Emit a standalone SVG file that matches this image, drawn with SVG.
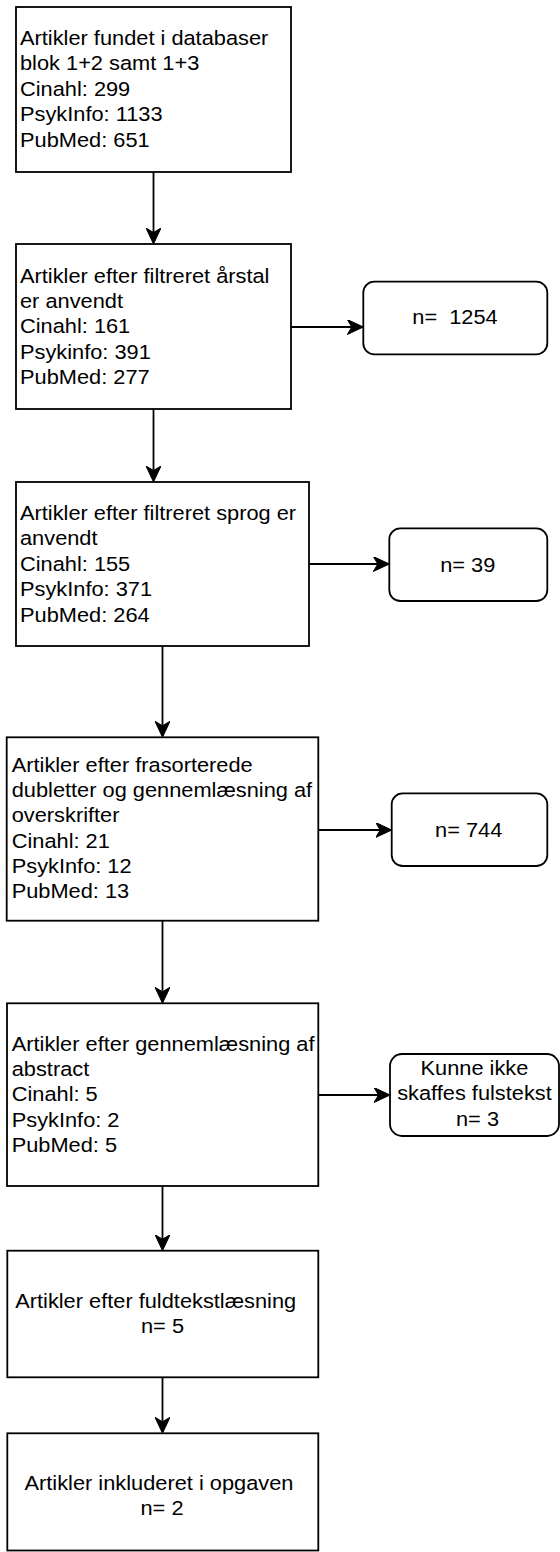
<svg xmlns="http://www.w3.org/2000/svg" width="560" height="1552" viewBox="0 0 560 1552">
<style>
  .box { fill: #ffffff; stroke: #000000; stroke-width: 1.8; }
  .lbl { font-family: "Liberation Sans", Arial, Helvetica, sans-serif; font-size: 19.5px; fill: #000000; }
  .mid { text-anchor: middle; }
  .edge { fill: none; stroke: #000000; stroke-width: 1.8; marker-end: url(#arrow); }
</style>
<defs>
  <marker id="arrow" viewBox="0 0 16 15" refX="13" refY="7.5" markerWidth="16" markerHeight="15" markerUnits="userSpaceOnUse" orient="auto">
    <path d="M0,0 L16,7.5 L0,15 L4.5,7.5 Z" fill="#000000" stroke="#000000" stroke-width="1" stroke-linejoin="miter"/>
  </marker>
</defs>
<rect x="0" y="0" width="560" height="1552" fill="#ffffff"/>

<g id="connectors">
  <path class="edge" d="M153.5,172 V241"/>
  <path class="edge" d="M291,327 H360.3"/>
  <path class="edge" d="M153.5,409 V479"/>
  <path class="edge" d="M309,564 H386.3"/>
  <path class="edge" d="M162.5,646 V734.3"/>
  <path class="edge" d="M318.3,830 H388.7"/>
  <path class="edge" d="M162.5,921 V1000.3"/>
  <path class="edge" d="M318.3,1095 H387"/>
  <path class="edge" d="M162.5,1186 V1247.7"/>
  <path class="edge" d="M162.5,1377.3 V1430.3"/>
</g>

<g id="node-database">
  <rect class="box" x="16" y="7" width="275" height="165"/>
  <text class="lbl" transform="matrix(1.118 0 0 1 20 0)">
    <tspan x="0" y="45">Artikler fundet i databaser</tspan>
    <tspan x="0" y="70.4">blok 1+2 samt 1+3</tspan>
    <tspan x="0" y="95.8">Cinahl: 299</tspan>
    <tspan x="0" y="121.2">PsykInfo: 1133</tspan>
    <tspan x="0" y="146.6">PubMed: 651</tspan>
  </text>
</g>

<g id="node-year">
  <rect class="box" x="16" y="244" width="275" height="165"/>
  <text class="lbl" transform="matrix(1.118 0 0 1 20 0)">
    <tspan x="0" y="282.7">Artikler efter filtreret årstal</tspan>
    <tspan x="0" y="308.1">er anvendt</tspan>
    <tspan x="0" y="333.5">Cinahl: 161</tspan>
    <tspan x="0" y="358.9">Psykinfo: 391</tspan>
    <tspan x="0" y="384.3">PubMed: 277</tspan>
  </text>
</g>

<g id="node-n1254">
  <rect class="box" x="363.3" y="281.7" width="184" height="72.6" rx="11" ry="11"/>
  <text class="lbl mid" transform="matrix(1.118 0 0 1 455 0)"><tspan x="0" y="324.3">n=&#160; 1254</tspan></text>
</g>

<g id="node-language">
  <rect class="box" x="16" y="482" width="293" height="164"/>
  <text class="lbl" transform="matrix(1.118 0 0 1 20 0)">
    <tspan x="0" y="520">Artikler efter filtreret sprog er</tspan>
    <tspan x="0" y="545.4">anvendt</tspan>
    <tspan x="0" y="570.8">Cinahl: 155</tspan>
    <tspan x="0" y="596.2">PsykInfo: 371</tspan>
    <tspan x="0" y="621.6">PubMed: 264</tspan>
  </text>
</g>

<g id="node-n39">
  <rect class="box" x="389.3" y="528.3" width="158" height="72.7" rx="11" ry="11"/>
  <text class="lbl mid" transform="matrix(1.118 0 0 1 467.7 0)"><tspan x="0" y="571.7">n= 39</tspan></text>
</g>

<g id="node-duplicates">
  <rect class="box" x="6.7" y="737.3" width="311.6" height="183.4"/>
  <text class="lbl" transform="matrix(1.118 0 0 1 11.7 0)">
    <tspan x="0" y="771.7">Artikler efter frasorterede</tspan>
    <tspan x="0" y="797">dubletter og gennemlæsning af</tspan>
    <tspan x="0" y="822.3">overskrifter</tspan>
    <tspan x="0" y="847.6">Cinahl: 21</tspan>
    <tspan x="0" y="873">PsykInfo: 12</tspan>
    <tspan x="0" y="898.3">PubMed: 13</tspan>
  </text>
</g>

<g id="node-n744">
  <rect class="box" x="391.7" y="793.3" width="155.6" height="72.7" rx="11" ry="11"/>
  <text class="lbl mid" transform="matrix(1.118 0 0 1 468.7 0)"><tspan x="0" y="836.7">n= 744</tspan></text>
</g>

<g id="node-abstract">
  <rect class="box" x="7" y="1003.3" width="311.3" height="182.7"/>
  <text class="lbl" transform="matrix(1.118 0 0 1 11.7 0)">
    <tspan x="0" y="1050.7">Artikler efter gennemlæsning af</tspan>
    <tspan x="0" y="1076">abstract</tspan>
    <tspan x="0" y="1101.4">Cinahl: 5</tspan>
    <tspan x="0" y="1126.8">PsykInfo: 2</tspan>
    <tspan x="0" y="1152.2">PubMed: 5</tspan>
  </text>
</g>

<g id="node-nofulltext">
  <rect class="box" x="390" y="1054" width="169" height="82" rx="12" ry="12"/>
  <text class="lbl mid" transform="matrix(1.118 0 0 1 477.5 0)">
    <tspan x="0" y="1075">Kunne ikke</tspan>
    <tspan x="0" y="1100.5">skaffes fulstekst</tspan>
    <tspan x="0" y="1126">n= 3</tspan>
  </text>
</g>

<g id="node-fulltext">
  <rect class="box" x="7.3" y="1250.7" width="311" height="126.6"/>
  <text class="lbl mid" transform="matrix(1.118 0 0 1 162.5 0)">
    <tspan x="-3.4" y="1308.3">Artikler efter fuldtekstlæsning</tspan>
    <tspan x="0" y="1333">n= 5</tspan>
  </text>
</g>

<g id="node-included">
  <rect class="box" x="7.3" y="1433.3" width="311" height="117.2"/>
  <text class="lbl mid" transform="matrix(1.118 0 0 1 162 0)">
    <tspan x="0" y="1490">Artikler inkluderet i opgaven</tspan>
    <tspan x="0" y="1515">n= 2</tspan>
  </text>
</g>
</svg>
